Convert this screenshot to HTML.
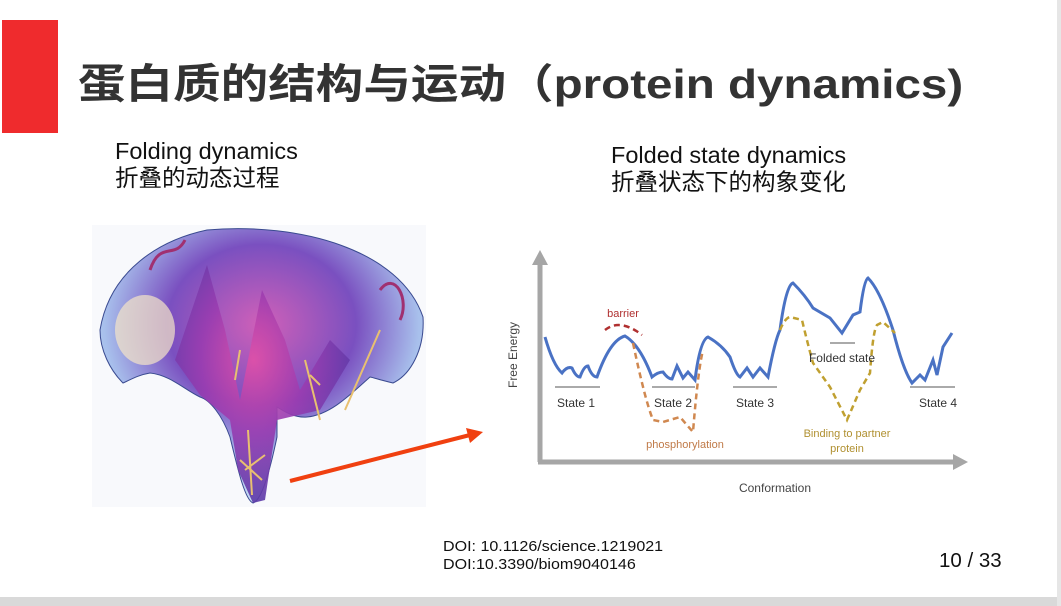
<!DOCTYPE html>
<html><head><meta charset="utf-8"><style>
body{margin:0;width:1061px;height:606px;background:#fff;position:relative;overflow:hidden;font-family:"Liberation Sans","Noto Sans CJK SC",sans-serif}
.a{position:absolute;white-space:nowrap}
</style></head><body>
<div class="a" style="left:2px;top:20px;width:56px;height:113px;background:#ef2b2d"></div>
<div class="a" style="left:78px;top:50px;font-size:41px;font-weight:bold;color:#333;transform:scaleX(1.16);transform-origin:left top">蛋白质的结构与运动（protein dynamics)</div>
<div class="a" style="left:115px;top:138px;font-size:23.5px;line-height:27px;color:#111">Folding dynamics<br>折叠的动态过程</div>
<div class="a" style="left:611px;top:142px;font-size:23.5px;line-height:27px;color:#111">Folded state dynamics<br>折叠状态下的构象变化</div>
<div class="a" style="left:443px;top:538px;font-size:15px;line-height:18px;color:#111;transform:scaleX(1.07);transform-origin:left top">DOI: 10.1126/science.1219021<br>DOI:10.3390/biom9040146</div>
<div class="a" style="left:939px;top:549px;font-size:20.5px;color:#111">10 / 33</div>
<div class="a" style="left:0;top:597px;width:1061px;height:9px;background:#d9d9d9"></div>
<div class="a" style="left:1057px;top:0;width:4px;height:606px;background:#e6e6e6"></div>
<svg class="a" style="left:0;top:0" width="1061" height="606" viewBox="0 0 1061 606">
<defs>
<radialGradient id="g1" cx="0.45" cy="0.4" r="0.6"><stop offset="0" stop-color="#e050a8"/><stop offset="0.5" stop-color="#9a3cb0"/><stop offset="1" stop-color="#5a3aa8"/></radialGradient>
<radialGradient id="g2" cx="0.5" cy="0.35" r="0.65"><stop offset="0" stop-color="#d060b8"/><stop offset="0.45" stop-color="#7a50c0"/><stop offset="0.75" stop-color="#a8c0ec"/><stop offset="1" stop-color="#c8dcf4"/></radialGradient>
</defs>
<rect x="92" y="225" width="334" height="282" fill="#f8f9fc"/>
<path d="M100 330 C110 270 160 240 207 230 C300 222 400 250 423 317 C425 350 410 375 393 383 C380 380 375 378 370 377 C350 395 330 415 307 417 C295 418 285 412 277 407 C277 420 277 430 277 437 C270 470 262 500 253 503 C245 500 238 470 230 437 C222 415 210 400 200 397 C185 390 170 375 150 373 C138 375 130 380 123 383 C110 370 100 350 100 330Z" fill="url(#g2)" stroke="#3a4a90" stroke-width="1"/>
<path d="M175 360 L207 265 L225 330 L240 400 L262 290 L285 340 L300 390 L330 340 L350 360 L320 410 L277 420 L265 500 L253 503 L238 470 L230 420 L200 395Z" fill="url(#g1)" opacity="0.9"/>
<ellipse cx="145" cy="330" rx="30" ry="35" fill="#f5e6c8" opacity="0.7"/>
<g fill="none" stroke="#e8c070" stroke-width="2"><path d="M248 430 L252 495 M240 460 L262 480 M245 470 L265 455"/><path d="M380 330 L345 410"/><path d="M305 360 L320 420"/><path d="M240 350 L235 380 M310 375 L320 385"/></g>
<g fill="none" stroke="#a03070" stroke-width="3"><path d="M150 270 C160 240 175 260 185 240 M380 290 C395 270 410 300 400 320"/></g>
<line x1="290" y1="481" x2="470" y2="435" stroke="#f04010" stroke-width="4"/>
<polygon points="483,432 466,428 470,443" fill="#f04010"/>
<g stroke="#a6a6a6" stroke-width="5" fill="none"><line x1="540" y1="262" x2="540" y2="462"/><line x1="538" y1="462" x2="955" y2="462"/></g>
<polygon points="540,250 532,265 548,265" fill="#a6a6a6"/><polygon points="968,462 953,454 953,470" fill="#a6a6a6"/>
<path d="M545 337 Q553 365 562 373 Q567 366 572 368 Q576 377 580 377 Q584 366 588 366 Q592 377 597 377 Q610 340 625 336 Q640 345 652 377 Q658 372 663 372 Q668 379 672 379 L677 366 L683 378 L688 372 L695 380 Q700 340 708 337 Q722 345 730 357 Q736 375 740 377 L747 368 L753 377 L760 368 L768 377 Q775 340 780 330 Q786 285 793 283 Q805 295 813 308 L830 318 L842 333 L853 315 L860 312 Q864 280 868 278 Q880 290 893 330 Q903 370 912 383 L920 375 L925 380 L933 360 L937 375 L943 347 L952 333" fill="none" stroke="#4a72c4" stroke-width="3"/>
<path d="M633 343 Q645 400 653 420 L663 422 L680 417 L693 432 Q698 370 703 350" fill="none" stroke="#d08850" stroke-width="2.5" stroke-dasharray="6,4"/>
<path d="M605 330 Q620 318 642 335" fill="none" stroke="#b03030" stroke-width="2.5" stroke-dasharray="6,4"/>
<path d="M780 330 Q785 318 790 317 L802 320 Q808 345 813 363 L830 387 L847 420 L860 390 L870 373 Q873 330 877 325 L883 322 L895 333" fill="none" stroke="#c0a030" stroke-width="2.5" stroke-dasharray="6,4"/>
<g stroke="#777" stroke-width="1.3"><line x1="555" y1="387" x2="600" y2="387"/><line x1="652" y1="387" x2="695" y2="387"/><line x1="733" y1="387" x2="777" y2="387"/><line x1="910" y1="387" x2="955" y2="387"/><line x1="830" y1="343" x2="855" y2="343"/></g>
<g font-size="12" fill="#333" text-anchor="middle"><text x="576" y="407">State 1</text><text x="673" y="407">State 2</text><text x="755" y="407">State 3</text><text x="938" y="407">State 4</text><text x="842" y="362">Folded state</text><text x="775" y="492" fill="#444">Conformation</text></g>
<text x="623" y="317" font-size="11" fill="#b03030" text-anchor="middle">barrier</text>
<text x="685" y="448" font-size="11" fill="#c07a48" text-anchor="middle">phosphorylation</text>
<text x="847" y="437" font-size="11" fill="#b09030" text-anchor="middle">Binding to partner</text><text x="847" y="452" font-size="11" fill="#b09030" text-anchor="middle">protein</text>
<text x="517" y="355" font-size="12" fill="#444" text-anchor="middle" transform="rotate(-90 517 355)">Free Energy</text>
</svg>
</body></html>
